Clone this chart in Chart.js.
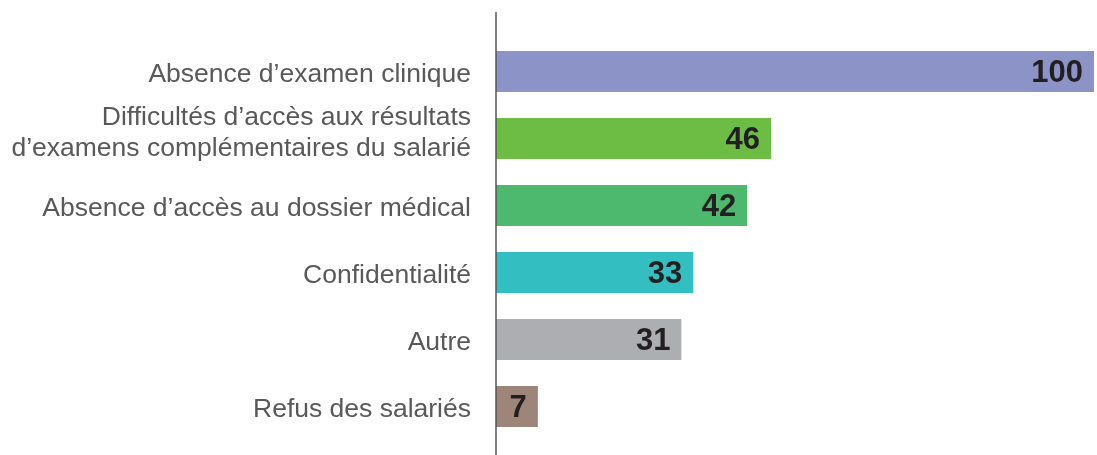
<!DOCTYPE html>
<html>
<head>
<meta charset="utf-8">
<script src="https://cdn.jsdelivr.net/npm/chart.js@4"></script>
<style>
  html, body { margin: 0; padding: 0; background: #fff; }
  #graphique { display: block; }
</style>
</head>
<body>
<canvas id="graphique" width="1097" height="455"></canvas>
<script>
// categories (de haut en bas)
const categories = [
    "Absence d’examen clinique",
    ["Difficultés d’accès aux résultats", "d’examens complémentaires du salarié"],
    "Absence d’accès au dossier médical",
    "Confidentialité",
    "Autre",
    "Refus des salariés"
];
const valeurs = [100, 46, 42, 33, 31, 7];
const couleurs = ["#8b93c7", "#6dbd45", "#4cb96e", "#33bfc2", "#adaeb1", "#9d857a"];

// ligne verticale de l'axe, du haut au bas du canvas
const axeVertical = {
    id: "axeVertical",
    afterDraw(chart) {
        const ctx = chart.ctx;
        const x = chart.scales.x.getPixelForValue(0);
        ctx.save();
        ctx.strokeStyle = "#555555";
        ctx.lineWidth = 1.5;
        ctx.beginPath();
        ctx.moveTo(x, 12);
        ctx.lineTo(x, chart.height);
        ctx.stroke();
        ctx.restore();
    }
};

// les libellés sur deux lignes sont un peu remontés
const decalageLibelles = {
    id: "decalageLibelles",
    beforeDraw(chart) {
        const items = chart.scales.y.getLabelItems(chart.chartArea);
        items.forEach((item) => {
            if (Array.isArray(item.label)) {
                item.options.translation[1] -= 8;
            }
        });
    }
};

// valeurs écrites au bout de chaque barre
const etiquettes = {
    id: "etiquettes",
    afterDatasetsDraw(chart) {
        const ctx = chart.ctx;
        const meta = chart.getDatasetMeta(0);
        ctx.save();
        ctx.font = "bold 31px 'Liberation Sans', Arial, sans-serif";
        ctx.fillStyle = "#231f20";
        ctx.textAlign = "right";
        ctx.textBaseline = "middle";
        meta.data.forEach((bar, i) => {
            ctx.fillText(String(valeurs[i]), bar.x - 11, bar.y + 2);
        });
        ctx.restore();
    }
};

new Chart(document.querySelector("#graphique"), {
    type: "bar",
    data: {
        labels: categories,
        datasets: [{
            data: valeurs,
            backgroundColor: couleurs,
            borderWidth: 0,
            barPercentage: 0.61,
            categoryPercentage: 1
        }]
    },
    options: {
        indexAxis: "y",
        responsive: false,
        animation: false,
        layout: { padding: { top: 38, bottom: 15, right: 3, left: 0 } },
        plugins: {
            legend: { display: false },
            tooltip: { enabled: false }
        },
        scales: {
            x: {
                min: 0,
                max: 100,
                display: false
            },
            y: {
                grid: { display: false, drawTicks: false },
                border: { display: false },
                afterFit(scale) {
                    scale.width = 496;
                    scale.paddingTop = 0;
                    scale.paddingBottom = 0;
                },
                ticks: {
                    color: "#595959",
                    padding: 25,
                    labelOffset: 3,
                    font: { family: "'Liberation Sans', Arial, sans-serif", size: 26.5, lineHeight: 1.17 }
                }
            }
        }
    },
    plugins: [axeVertical, decalageLibelles, etiquettes]
});
</script>
</body>
</html>
